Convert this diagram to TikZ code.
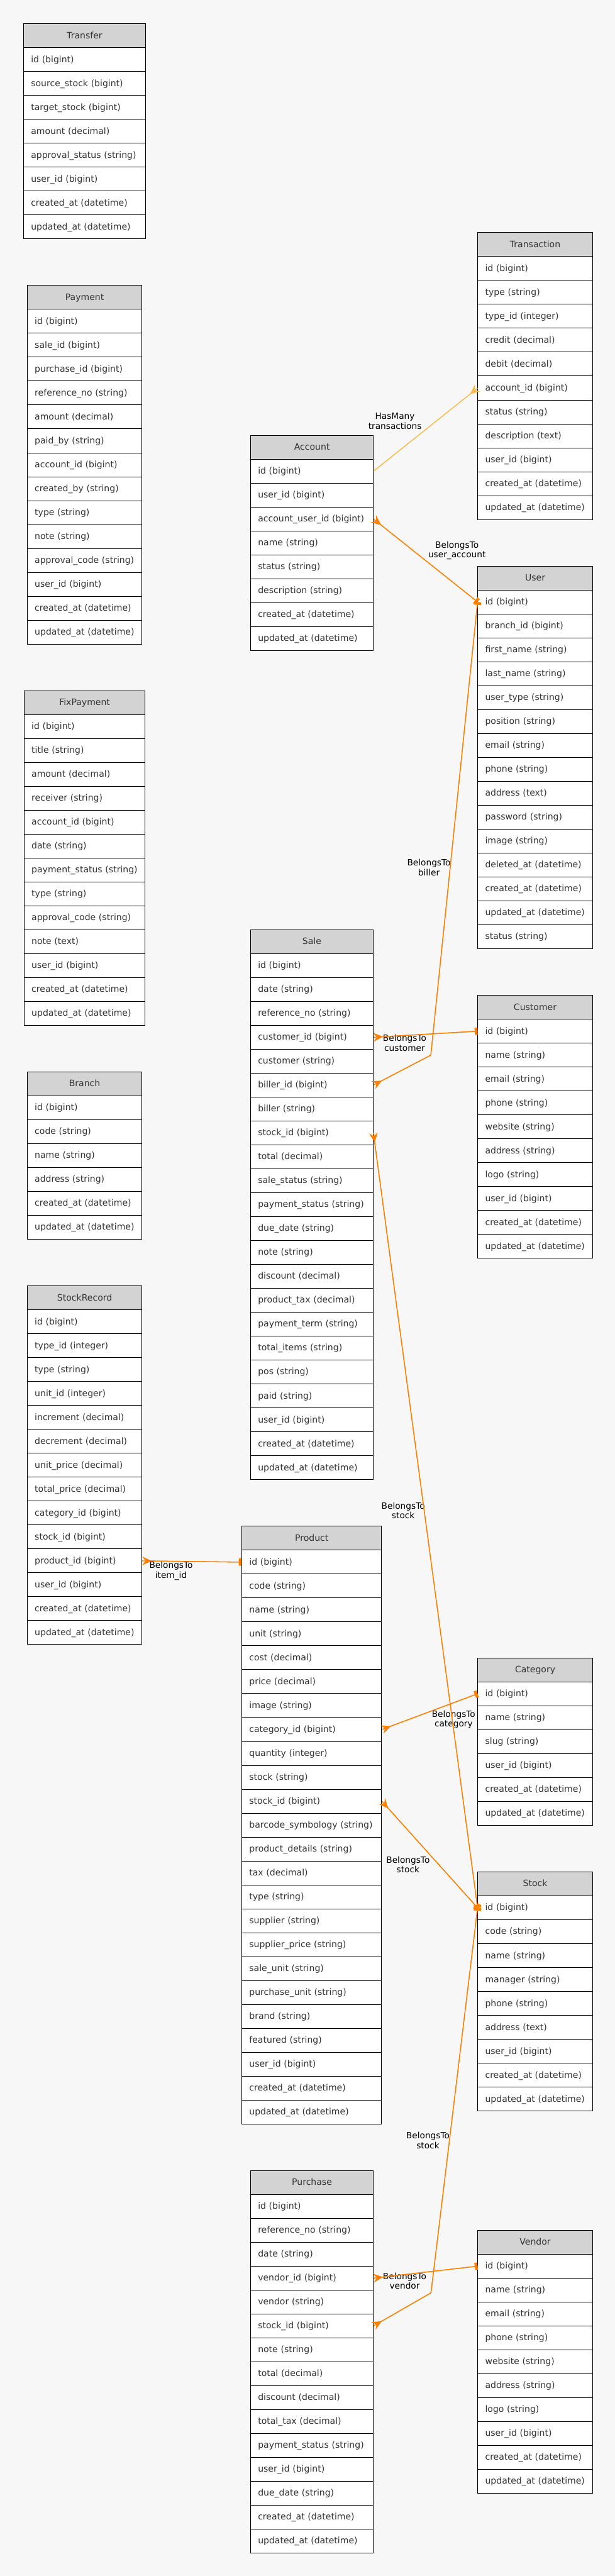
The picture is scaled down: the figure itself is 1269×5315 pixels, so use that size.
\documentclass[tikz,border=0pt]{standalone}
\usepackage{fontspec}
\setmainfont{DejaVu Sans}
\usetikzlibrary{arrows.meta}
\definecolor{bgc}{HTML}{F7F7F7}
\definecolor{hdrc}{HTML}{D3D3D3}
\definecolor{txtc}{HTML}{333333}
\definecolor{btc}{HTML}{FF8000}
\definecolor{hmc}{HTML}{FDB946}
\newcommand{\tblfont}{\fontsize{18.2}{21.8}\selectfont}
\newcommand{\lblfont}{\fontsize{17.8}{20}\selectfont}
\tikzset{
  hdrbox/.style={draw=black, line width=1.3pt, fill=hdrc, anchor=north west,
    minimum height=49.333pt, inner xsep=15pt, inner ysep=0pt, align=center,
    text height=14pt, text depth=2.6pt, font=\tblfont, text=txtc},
  fldbox/.style={draw=black, line width=1.3pt, fill=white, anchor=north west,
    minimum height=49.333pt, inner xsep=15pt, inner ysep=0pt, align=left,
    text height=14pt, text depth=2.6pt, font=\tblfont, text=txtc},
  btline/.style={draw=btc, line width=1.7pt},
  hmline/.style={draw=hmc, line width=1.5pt},
  crowtee/.style={arrows={{Stealth[reversed,length=20pt,width=18pt,inset=7pt]}-{Rectangle[length=6pt,width=15pt]}}},
  crowend/.style={arrows={-{Stealth[reversed,length=20pt,width=18pt,inset=7pt]}}},
  rellabel/.style={font=\lblfont, align=center, inner sep=0pt, text=black},
}
\newcommand{\ertable}[6]{%
  \pgfmathsetmacro{\ertw}{#4-30}%
  \node[hdrbox, minimum width=#4pt, text width=\ertw pt] (#1) at (#2,#3) {#5};%
  \foreach \t [count=\i] in {#6} {%
    \pgfmathsetmacro{\ery}{#3+\i*49.333}%
    \node[fldbox, minimum width=#4pt, text width=\ertw pt] (#1-\i) at (#2,\ery) {\t};%
  }%
}
\newcommand{\btrel}[1]{\draw[btline] #1;\draw[btline,crowtee] #1;}
\begin{document}
\begin{tikzpicture}[x=1pt,y=-1pt]
\fill[bgc] (0,0) rectangle (1269,5315);
\useasboundingbox (0,0) rectangle (1269,5315);

% left column
\ertable{Transfer}{48.3}{48.3}{251}{Transfer}{id (bigint),source\_stock (bigint),target\_stock (bigint),amount (decimal),approval\_status (string),user\_id (bigint),created\_at (datetime),updated\_at (datetime)}
\ertable{Payment}{56}{588.3}{236}{Payment}{id (bigint),sale\_id (bigint),purchase\_id (bigint),reference\_no (string),amount (decimal),paid\_by (string),account\_id (bigint),created\_by (string),type (string),note (string),approval\_code (string),user\_id (bigint),created\_at (datetime),updated\_at (datetime)}
\ertable{FixPayment}{49.5}{1424.3}{249}{FixPayment}{id (bigint),title (string),amount (decimal),receiver (string),account\_id (bigint),date (string),payment\_status (string),type (string),approval\_code (string),note (text),user\_id (bigint),created\_at (datetime),updated\_at (datetime)}
\ertable{Branch}{56}{2211}{236}{Branch}{id (bigint),code (string),name (string),address (string),created\_at (datetime),updated\_at (datetime)}
\ertable{StockRecord}{56}{2652.5}{236}{StockRecord}{id (bigint),type\_id (integer),type (string),unit\_id (integer),increment (decimal),decrement (decimal),unit\_price (decimal),total\_price (decimal),category\_id (bigint),stock\_id (bigint),product\_id (bigint),user\_id (bigint),created\_at (datetime),updated\_at (datetime)}

% middle column
\ertable{Account}{516.7}{897.5}{252.7}{Account}{id (bigint),user\_id (bigint),account\_user\_id (bigint),name (string),status (string),description (string),created\_at (datetime),updated\_at (datetime)}
\ertable{Sale}{516.7}{1917.5}{252.5}{Sale}{id (bigint),date (string),reference\_no (string),customer\_id (bigint),customer (string),biller\_id (bigint),biller (string),stock\_id (bigint),total (decimal),sale\_status (string),payment\_status (string),due\_date (string),note (string),discount (decimal),product\_tax (decimal),payment\_term (string),total\_items (string),pos (string),paid (string),user\_id (bigint),created\_at (datetime),updated\_at (datetime)}
\ertable{Product}{498.7}{3148.4}{288}{Product}{id (bigint),code (string),name (string),unit (string),cost (decimal),price (decimal),image (string),category\_id (bigint),quantity (integer),stock (string),stock\_id (bigint),barcode\_symbology (string),product\_details (string),tax (decimal),type (string),supplier (string),supplier\_price (string),sale\_unit (string),purchase\_unit (string),brand (string),featured (string),user\_id (bigint),created\_at (datetime),updated\_at (datetime)}
\ertable{Purchase}{516.7}{4477.7}{252.6}{Purchase}{id (bigint),reference\_no (string),date (string),vendor\_id (bigint),vendor (string),stock\_id (bigint),note (string),total (decimal),discount (decimal),total\_tax (decimal),payment\_status (string),user\_id (bigint),due\_date (string),created\_at (datetime),updated\_at (datetime)}

% right column
\ertable{Transaction}{985.5}{479.3}{236.3}{Transaction}{id (bigint),type (string),type\_id (integer),credit (decimal),debit (decimal),account\_id (bigint),status (string),description (text),user\_id (bigint),created\_at (datetime),updated\_at (datetime)}
\ertable{User}{985.5}{1167.3}{236.3}{User}{id (bigint),branch\_id (bigint),first\_name (string),last\_name (string),user\_type (string),position (string),email (string),phone (string),address (text),password (string),image (string),deleted\_at (datetime),created\_at (datetime),updated\_at (datetime),status (string)}
\ertable{Customer}{985.5}{2053}{236.3}{Customer}{id (bigint),name (string),email (string),phone (string),website (string),address (string),logo (string),user\_id (bigint),created\_at (datetime),updated\_at (datetime)}
\ertable{Category}{985.5}{3420}{236.3}{Category}{id (bigint),name (string),slug (string),user\_id (bigint),created\_at (datetime),updated\_at (datetime)}
\ertable{Stock}{985.5}{3861.7}{236.3}{Stock}{id (bigint),code (string),name (string),manager (string),phone (string),address (text),user\_id (bigint),created\_at (datetime),updated\_at (datetime)}
\ertable{Vendor}{985.5}{4601}{236.3}{Vendor}{id (bigint),name (string),email (string),phone (string),website (string),address (string),logo (string),user\_id (bigint),created\_at (datetime),updated\_at (datetime)}

% bend points
\coordinate (billerbend) at (889,2177);
\coordinate (pstockbend) at (889.3,4730.7);

% labels
\node[rellabel] (lhm) at (815,869) {HasMany\\transactions};
\node[rellabel] (lua) at (943,1136) {BelongsTo\\user\_account};
\node[rellabel] (lbi) at (885,1790) {BelongsTo\\biller};
\node[rellabel] (lcu) at (835,2152) {BelongsTo\\customer};
\node[rellabel] (lss) at (832,3117) {BelongsTo\\stock};
\node[rellabel] (lit) at (353,3241) {BelongsTo\\item\_id};
\node[rellabel] (lca) at (936,3548) {BelongsTo\\category};
\node[rellabel] (lps) at (842,3847) {BelongsTo\\stock};
\node[rellabel] (lpu) at (883,4416) {BelongsTo\\stock};
\node[rellabel] (lve) at (835,4706) {BelongsTo\\vendor};

% connectors
\draw[hmline] (Account-1.east) -- (Transaction-6.west);
\draw[hmline,crowend] (Account-1.east) -- (Transaction-6.west);
\btrel{(Account-3.east) -- (User-1.west)}
\btrel{(Sale-6.east) -- (billerbend) -- (User-1.west)}
\btrel{(Sale-4.east) -- (Customer-1.west)}
\btrel{(Sale-8.east) -- (Stock-1.west)}
\btrel{(StockRecord-11.east) -- (Product-1.west)}
\btrel{(Product-8.east) -- (Category-1.west)}
\btrel{(Product-11.east) -- (Stock-1.west)}
\btrel{(Purchase-4.east) -- (Vendor-1.west)}
\btrel{(Purchase-6.east) -- (pstockbend) -- (Stock-1.west)}
\end{tikzpicture}
\end{document}
